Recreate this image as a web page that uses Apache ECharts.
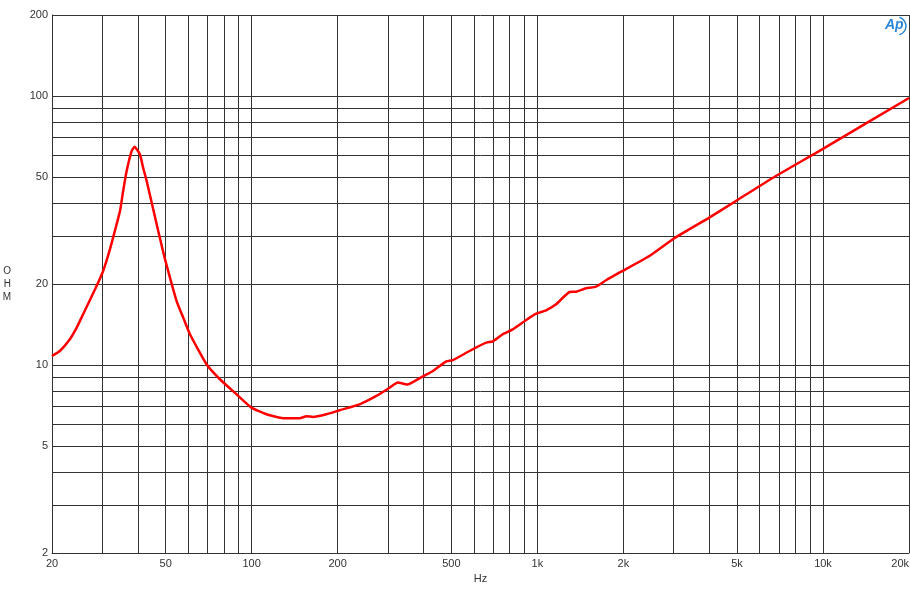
<!DOCTYPE html>
<html>
<head>
<meta charset="utf-8">
<script src="https://cdn.jsdelivr.net/npm/echarts@6/dist/echarts.min.js"></script>
<style>html,body{margin:0;padding:0;background:#fff}#c{width:910px;height:600px}</style>
</head>
<body>
<div id="c"></div>
<script>
// Frequency (Hz)
var freq = [20, 21.3, 23.1, 24.4, 25.7, 28.3, 30.2, 31.9, 33.2, 34.6, 35.5, 36.5, 38.0, 38.9, 40.6, 41.7, 42.9, 45.2, 47.7, 49.7, 54.6, 57.6, 60.8, 69.5, 77.4, 88.5, 99.8, 112.7, 128.7, 147.3, 155.5, 163.9, 182.6, 203.2, 238.8, 273.2, 304, 325, 350, 392, 431, 480, 506, 579, 662, 698, 757, 820, 914, 991, 1073, 1163, 1295, 1367, 1481, 1605, 1740, 1937, 2466, 3016, 3996, 4955, 6840, 9690, 20000];
// Impedance (ohm)
var ohm = [10.8, 11.27, 12.46, 13.76, 15.44, 19.11, 22.36, 26.92, 31.5, 37.36, 44.4, 52.6, 62.4, 64.8, 60.7, 54.1, 48.3, 38.0, 29.7, 24.8, 17.29, 15.0, 13.01, 10.06, 8.85, 7.78, 6.94, 6.56, 6.34, 6.34, 6.45, 6.41, 6.56, 6.79, 7.14, 7.67, 8.23, 8.60, 8.46, 9.00, 9.50, 10.32, 10.42, 11.27, 12.10, 12.25, 13.01, 13.57, 14.70, 15.51, 15.97, 16.81, 18.68, 18.73, 19.28, 19.55, 20.65, 22.03, 25.42, 29.58, 35.29, 40.71, 50.42, 62.4, 98.3];
// Tick labels and grid lines
var xLabels = [20, 50, 100, 200, 500, 1000, 2000, 5000, 10000, 20000];
var xGrid = [20, 30, 40, 50, 60, 70, 80, 90, 100, 200, 300, 400, 500, 600, 700, 800, 900, 1000, 2000, 3000, 4000, 5000, 6000, 7000, 8000, 9000, 10000, 20000];
var yLabels = [2, 5, 10, 20, 50, 100, 200];
var yGrid = [2, 3, 4, 5, 6, 7, 8, 9, 10, 20, 30, 40, 50, 60, 70, 80, 90, 100, 200];

var data = freq.map(function (f, i) { return [f, ohm[i]]; });
var chart = echarts.init(document.getElementById('c'));
var lineCol = '#333333';
chart.setOption({
  animation: false,
  backgroundColor: '#fff',
  grid: { left: 52, right: 1, top: 15, bottom: 47, containLabel: false, outerBoundsMode: 'none' },
  xAxis: {
    type: 'log', logBase: 10, min: 20, max: 20000,
    name: 'Hz', nameLocation: 'middle', nameGap: 20,
    nameTextStyle: { color: '#333', fontSize: 11, fontFamily: 'Liberation Sans, Arial' },
    axisLine: { show: true, lineStyle: { color: lineCol, width: 1 } },
    axisTick: { show: false, customValues: xGrid },
    axisLabel: {
      customValues: xLabels, color: '#333', fontSize: 11, margin: 5,
      fontFamily: 'Liberation Sans, Arial', hideOverlap: false, alignMaxLabel: 'right',
      formatter: function (v) { return v >= 1000 ? (Math.round(v / 1000)) + 'k' : String(Math.round(v)); }
    },
    splitLine: { show: true, lineStyle: { color: lineCol, width: 1 } }
  },
  yAxis: {
    type: 'log', logBase: 10, min: 2, max: 200,
    name: 'O\nH\nM', nameLocation: 'middle', nameGap: 41, nameRotate: 0,
    nameTextStyle: { color: '#333', fontSize: 10, lineHeight: 13, fontFamily: 'Liberation Sans, Arial' },
    axisLine: { show: true, lineStyle: { color: lineCol, width: 1 } },
    axisTick: { show: false, customValues: yGrid },
    axisLabel: {
      customValues: yLabels, color: '#333', fontSize: 11, margin: 4,
      fontFamily: 'Liberation Sans, Arial', hideOverlap: false
    },
    splitLine: { show: true, lineStyle: { color: lineCol, width: 1 } }
  },
  graphic: [
    { type: 'text', x: 885, y: 18, style: { text: 'Ap', fill: '#2a86d6', font: 'italic bold 14px Liberation Sans, Arial' } },
    { type: 'arc', shape: { cx: 897, cy: 26, r: 9, startAngle: -1.3, endAngle: 1.3 }, style: { stroke: '#2a86d6', lineWidth: 1.5, fill: 'none' } }
  ],
  series: [{
    type: 'line', data: data, symbol: 'none', smooth: 0.15,
    lineStyle: { color: '#ff0000', width: 2.5 }, z: 5
  }]
});
</script>
</body>
</html>
